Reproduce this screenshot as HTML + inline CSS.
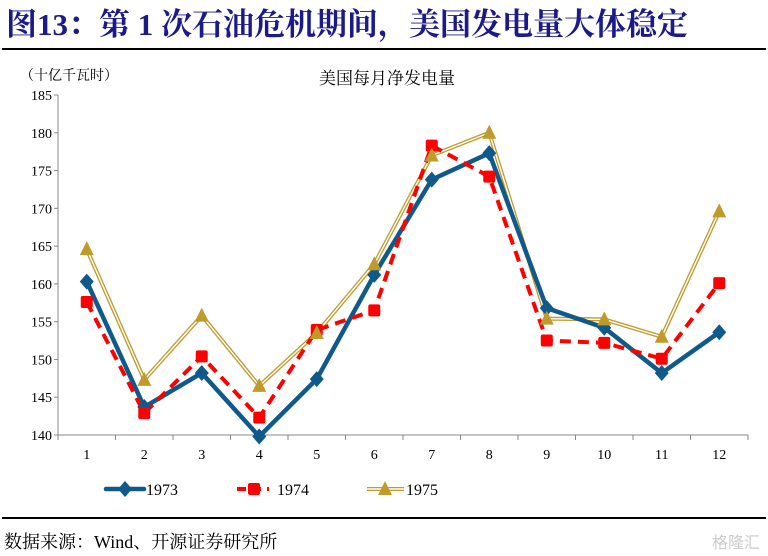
<!DOCTYPE html>
<html><head><meta charset="utf-8">
<style>
body{margin:0;width:768px;height:556px;background:#fff;overflow:hidden;font-family:"Liberation Serif","Noto Serif CJK SC",serif;}
svg{display:block}
</style></head>
<body>
<svg width="768" height="556" xmlns="http://www.w3.org/2000/svg">
<text x="6" y="35" font-size="31" font-weight="bold" fill="#1a1a8c" font-family="Liberation Serif,Noto Serif CJK SC,serif">图13：第 1 次石油危机期间，美国发电量大体稳定</text>
<rect x="2" y="48" width="764" height="2" fill="#000"/>
<text x="20" y="80" font-size="14" fill="#000" font-family="Noto Serif CJK SC,serif">（十亿千瓦时）</text>
<text x="387" y="84" font-size="17" text-anchor="middle" fill="#000" font-family="Noto Serif CJK SC,serif">美国每月净发电量</text>
<g id="chart"></g>
<rect x="2" y="517" width="764" height="2" fill="#000"/>
<text x="4" y="548" font-size="18" fill="#000">数据来源：Wind、开源证券研究所</text>
<text x="760" y="548" font-size="16" fill="#ccc" text-anchor="end" font-family="Liberation Sans,Noto Sans CJK SC,sans-serif">格隆汇</text>
</svg>
<script>
const categories=["1","2","3","4","5","6","7","8","9","10","11","12"];
const yTicks=[140,145,150,155,160,165,170,175,180,185];
const s1973=[160.3,143.7,148.2,139.8,147.4,161.2,173.8,177.3,156.8,154.2,148.2,153.6];
const s1974=[157.6,142.9,150.4,142.3,153.9,156.5,178.3,174.2,152.5,152.2,150.1,160.1];
const s1975=[164.6,147.3,155.8,146.5,153.5,162.6,177.0,180.0,155.4,155.3,153.0,169.6];
const seriesNames=["1973","1974","1975"];

const NS="http://www.w3.org/2000/svg";
const g=document.getElementById('chart');
const X0=58,X1=748,Y0=435,Y1=95,YMIN=140,YMAX=185;
const bw=(X1-X0)/categories.length;
const xS=i=>X0+(i+0.5)*bw;
const yS=v=>Y0-(v-YMIN)/(YMAX-YMIN)*(Y0-Y1);
function mk(t,a,p){const e=document.createElementNS(NS,t);for(const k in a)e.setAttribute(k,a[k]);(p||g).appendChild(e);return e;}

let e=mk('line',{x1:X0,y1:Y1,x2:X0,y2:Y0,stroke:'#888','stroke-width':1});


e=mk('line',{x1:X0,y1:Y0,x2:X1,y2:Y0,stroke:'#888','stroke-width':1});


yTicks.forEach(v=>{
  mk('line',{x1:X0-4,y1:yS(v),x2:X0,y2:yS(v),stroke:'#888'});
  const t=mk('text',{x:X0-6,y:yS(v)+5,'font-size':14,'text-anchor':'end',fill:'#000'});
  t.textContent=v;
  
  
});
for(let i=0;i<=categories.length;i++)mk('line',{x1:X0+i*bw,y1:Y0,x2:X0+i*bw,y2:Y0+5,stroke:'#888'});
categories.forEach((c,i)=>{
  const t=mk('text',{x:xS(i),y:Y0+24,'font-size':14,'text-anchor':'middle',fill:'#000'});
  t.textContent=c;
  
  
});
const pts=a=>a.map((v,i)=>xS(i)+','+yS(v)).join(' ');
e=mk('polyline',{points:pts(s1975),fill:'none',stroke:'#c09a2a','stroke-width':4,'stroke-linejoin':'miter'});


mk('polyline',{points:pts(s1975),fill:'none',stroke:'#fff','stroke-width':1.4});
e=mk('polyline',{points:pts(s1973),fill:'none',stroke:'#0f5a8a','stroke-width':4.5});


e=mk('polyline',{points:pts(s1974),fill:'none',stroke:'#f00','stroke-width':4,'stroke-dasharray':'11,7'});


function diamond(x,y,p){return mk('polygon',{points:`${x},${y-8} ${x+7},${y} ${x},${y+8} ${x-7},${y}`,fill:'#0f5a8a'},p);}
function square(x,y,p){return mk('rect',{x:x-6,y:y-6,width:12,height:12,rx:2,fill:'#f00'},p);}
function tri(x,y,p){return mk('polygon',{points:`${x},${y-8} ${x+7},${y+6} ${x-7},${y+6}`,fill:'#c09a2a'},p);}
s1973.forEach((v,i)=>{const m=diamond(xS(i),yS(v));});
s1974.forEach((v,i)=>{const m=square(xS(i),yS(v));});
s1975.forEach((v,i)=>{const m=tri(xS(i),yS(v));});
const LY=489;
const lg=mk('g',{});


mk('line',{x1:106,y1:LY,x2:144,y2:LY,stroke:'#0f5a8a','stroke-width':4.5,'stroke-linecap':'round'},lg);diamond(125,LY,lg);
mk('line',{x1:237,y1:LY,x2:269,y2:LY,stroke:'#f00','stroke-width':4,'stroke-dasharray':'9,6'},lg);square(254,LY,lg);
mk('line',{x1:367,y1:LY,x2:404,y2:LY,stroke:'#c09a2a','stroke-width':4},lg);mk('line',{x1:367,y1:LY,x2:404,y2:LY,stroke:'#fff','stroke-width':1.4},lg);tri(385,LY,lg);
[[146,0],[277,1],[406,2]].forEach(([x,k])=>{const t=mk('text',{x:x,y:LY+6,'font-size':16,fill:'#000'},lg);t.textContent=seriesNames[k];});
</script>
</body></html>
